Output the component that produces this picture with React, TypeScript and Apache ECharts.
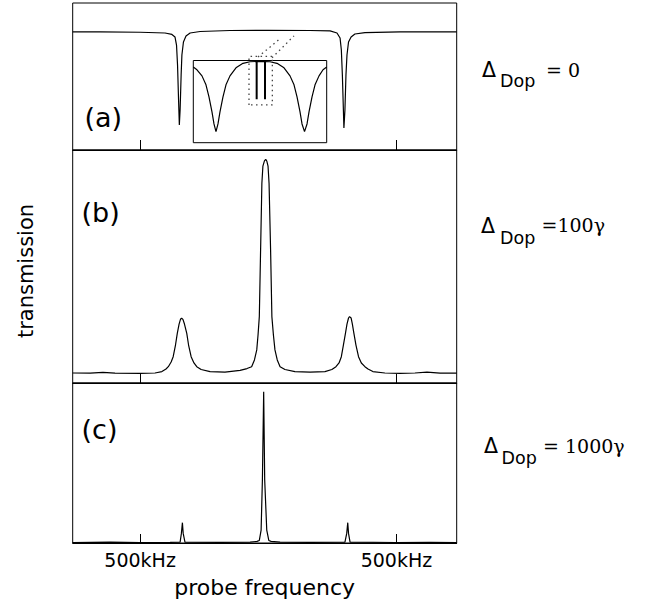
import React, { useEffect, useRef } from "react";
import * as echarts from "echarts";

// Panel (a): Doppler width 0 — transmission dips (frequency in kHz)
const freqA = [-763, -656, -500, -403, -376, -364, -358, -354, -350, -347, -344, -340, -337, -331, -321, -305, -266, -149, -1, 163, 241, 268, 280, 285, 289, 293, 295, 299, 303, 307, 313, 323, 338, 377, 514, 735];
const transA = [0.803, 0.803, 0.801, 0.796, 0.786, 0.769, 0.714, 0.578, 0.34, 0.17, 0.272, 0.51, 0.646, 0.735, 0.776, 0.796, 0.806, 0.813, 0.814, 0.813, 0.81, 0.796, 0.762, 0.68, 0.51, 0.272, 0.15, 0.272, 0.51, 0.646, 0.735, 0.769, 0.789, 0.799, 0.803, 0.803];

// Panel (b): Doppler width 100 gamma
const freqB = [-763, -695, -645, -598, -500, -442, -415, -399, -390, -379, -371, -362, -355, -348, -342, -338, -333, -327, -318, -311, -301, -290, -279, -262, -227, -169, -110, -83, -65, -54, -45, -40, -35, -30, -25, -21, -15, -10, -6, -1, 3, 9, 14, 20, 26, 35, 46, 65, 104, 163, 221, 248, 264, 276, 285, 293, 301, 307, 313, 317, 323, 328, 334, 342, 352, 363, 377, 389, 408, 455, 514, 572, 619, 670, 735];
const transB = [0.043, 0.042, 0.046, 0.042, 0.041, 0.043, 0.049, 0.06, 0.07, 0.09, 0.113, 0.163, 0.213, 0.253, 0.275, 0.278, 0.273, 0.253, 0.213, 0.163, 0.113, 0.086, 0.07, 0.058, 0.049, 0.047, 0.054, 0.062, 0.07, 0.099, 0.142, 0.206, 0.285, 0.571, 0.857, 0.931, 0.953, 0.96, 0.953, 0.931, 0.857, 0.571, 0.285, 0.206, 0.142, 0.099, 0.07, 0.058, 0.049, 0.047, 0.049, 0.058, 0.07, 0.086, 0.113, 0.163, 0.213, 0.253, 0.279, 0.285, 0.279, 0.253, 0.213, 0.163, 0.113, 0.086, 0.07, 0.06, 0.049, 0.043, 0.041, 0.043, 0.047, 0.042, 0.042];

// Panel (c): Doppler width 1000 gamma
const freqC = [-763, -617, -500, -383, -344, -339, -335, -332, -325, -188, -71, -44, -35, -28, -23, -18, -14, -6, 2, 11, 46, 163, 299, 306, 310, 313, 319, 498, 631, 735];
const transC = [0.003, 0.005, 0.002, 0.004, 0.005, 0.06, 0.127, 0.06, 0.005, 0.004, 0.006, 0.01, 0.016, 0.08, 0.394, 0.946, 0.394, 0.08, 0.016, 0.01, 0.006, 0.004, 0.005, 0.06, 0.127, 0.06, 0.005, 0.003, 0.004, 0.003];

// Inset of panel (a) (relative units)
const insetU = [-100, -94.5, -87, -81, -76.5, -72, -69, -66, -63, -60, -55.5, -51, -45, -36, -25.5, -15, 0, 15, 25.5, 36, 45, 51, 55.5, 60, 63, 66.75, 70.5, 73.5, 78, 82.5, 88.5, 94.5, 100];
const insetV = [0.92, 0.887, 0.813, 0.704, 0.557, 0.374, 0.228, 0.134, 0.228, 0.374, 0.557, 0.704, 0.813, 0.911, 0.966, 0.985, 0.99, 0.985, 0.966, 0.911, 0.813, 0.704, 0.557, 0.374, 0.228, 0.134, 0.228, 0.374, 0.557, 0.704, 0.813, 0.887, 0.92];
const insetLinesU = [-5, 7.5];
const insetLinesV = [1, 0.53];
const boxU = [-16.5, -16.5, 18.5, 18.5, -16.5];
const boxV = [0.46, 1.049, 1.049, 0.46, 0.46];
const guide1U = [-3, 30];
const guide1V = [1.043, 1.265];
const guide2U = [18, 51];
const guide2V = [1.033, 1.3];

// Axis ticks / labels
const tickValues = [-500, 500];
const tickLabels = ["500kHz", "500kHz"];
const panelLabels = ["(a)", "(b)", "(c)"];
const dopplerValues = ["= 0", "=100\u03b3", "= 1000\u03b3"];

const pairs = (xs: number[], ys: number[]) => xs.map((x, i) => [x, ys[i]]);

const SANS = "DejaVu Sans";
const SERIF = "DejaVu Serif";

export default function App() {
  const ref = useRef<HTMLDivElement>(null);

  useEffect(() => {
    document.body.style.margin = "0";
    const chart = echarts.init(ref.current!, null, { renderer: "svg" });

    const mainX = (gridIndex: number, showLabels: boolean, tickLen: number) => ({
      type: "value",
      gridIndex,
      min: -763,
      max: 735,
      axisLine: { show: true, onZero: false, lineStyle: { color: "#000", width: 1 } },
      axisTick: {
        show: true,
        inside: true,
        length: tickLen,
        customValues: tickValues,
        lineStyle: { color: "#000", width: 1 },
      },
      axisLabel: showLabels
        ? {
            show: true,
            customValues: tickValues,
            formatter: (v: number) => tickLabels[tickValues.indexOf(v)] ?? "",
            fontFamily: SANS,
            fontSize: 19,
            color: "#000",
            margin: 7,
          }
        : { show: false },
      splitLine: { show: false },
      ...(showLabels
        ? {
            name: "probe frequency",
            nameLocation: "middle",
            nameGap: 33,
            nameTextStyle: { fontFamily: SANS, fontSize: 22, color: "#000" },
          }
        : {}),
    });

    const yAxisDef = (gridIndex: number) => ({
      type: "value",
      gridIndex,
      min: 0,
      max: 1,
      show: false,
    });

    const lineSeries = (idx: number, data: number[][], width = 1.2, extra: any = {}) => ({
      type: "line",
      xAxisIndex: idx,
      yAxisIndex: idx,
      data,
      symbol: "none",
      showSymbol: false,
      silent: true,
      lineStyle: { color: "#000", width },
      ...extra,
    });

    const dotted = { type: [1.5, 3.5] as any, color: "#444", width: 1.3 };

    const labelRows = [
      { dy: 69.7, dopY: 80.9, valY: 70, dx: 482, dopX: 500, valX: 546 },
      { dy: 225.8, dopY: 237.6, valY: 225.3, dx: 481, dopX: 500, valX: 541.5 },
      { dy: 445.8, dopY: 457.6, valY: 445.5, dx: 484, dopX: 501.5, valX: 543 },
    ];

    const graphics: any[] = [];
    const panelLabelPos = [
      [84.5, 117],
      [81.5, 212.5],
      [81.5, 429],
    ];
    panelLabels.forEach((t, i) => {
      graphics.push({
        type: "text",
        x: panelLabelPos[i][0],
        y: panelLabelPos[i][1],
        style: { text: t, fontFamily: SANS, fontSize: 27, fill: "#000", textAlign: "left", textVerticalAlign: "middle" },
      });
    });
    labelRows.forEach((r, i) => {
      graphics.push({
        type: "text",
        x: r.dx,
        y: r.dy,
        style: { text: "\u0394", fontFamily: SANS, fontSize: 20.5, fill: "#000", textAlign: "left", textVerticalAlign: "middle" },
      });
      graphics.push({
        type: "text",
        x: r.dopX,
        y: r.dopY,
        style: { text: "Dop", fontFamily: SANS, fontSize: 17.5, fill: "#000", textAlign: "left", textVerticalAlign: "middle" },
      });
      graphics.push({
        type: "text",
        x: r.valX,
        y: r.valY,
        style: { text: dopplerValues[i], fontFamily: SERIF, fontSize: 19, fill: "#000", textAlign: "left", textVerticalAlign: "middle" },
      });
    });
    graphics.push({
      type: "text",
      x: 25.5,
      y: 271,
      rotation: Math.PI / 2,
      style: { text: "transmission", fontFamily: SANS, fontSize: 21, fill: "#000", textAlign: "center", textVerticalAlign: "middle" },
    });

    const gridStyle = { show: true, borderColor: "#000", borderWidth: 1, containLabel: false };

    chart.setOption({
      animation: false,
      backgroundColor: "#fff",
      grid: [
        { left: 72.7, top: 3, width: 384, height: 147, ...gridStyle },
        { left: 72.7, top: 150, width: 384, height: 233, ...gridStyle },
        { left: 72.7, top: 383, width: 384, height: 160, ...gridStyle },
        { left: 193.3, top: 60.5, width: 133.4, height: 82.2, ...gridStyle },
      ],
      xAxis: [
        mainX(0, false, 10),
        mainX(1, false, 9),
        mainX(2, true, 9),
        { type: "value", gridIndex: 3, min: -100, max: 100, show: false },
      ],
      yAxis: [yAxisDef(0), yAxisDef(1), yAxisDef(2), yAxisDef(3)],
      series: [
        lineSeries(0, pairs(freqA, transA)),
        lineSeries(1, pairs(freqB, transB)),
        lineSeries(2, pairs(freqC, transC)),
        lineSeries(3, pairs(insetU, insetV)),
        lineSeries(3, pairs([insetLinesU[0], insetLinesU[0]], insetLinesV), 2),
        lineSeries(3, pairs([insetLinesU[1], insetLinesU[1]], insetLinesV), 2),
        lineSeries(3, pairs(boxU, boxV), 1.3, { clip: false, lineStyle: dotted }),
        lineSeries(3, pairs(guide1U, guide1V), 1.3, { clip: false, lineStyle: dotted }),
        lineSeries(3, pairs(guide2U, guide2V), 1.3, { clip: false, lineStyle: dotted }),
      ],
      graphic: graphics,
    });

    return () => chart.dispose();
  }, []);

  return (
    <div
      ref={ref}
      style={{ position: "absolute", left: 0, top: 0, width: 654, height: 608, background: "#fff" }}
    />
  );
}
